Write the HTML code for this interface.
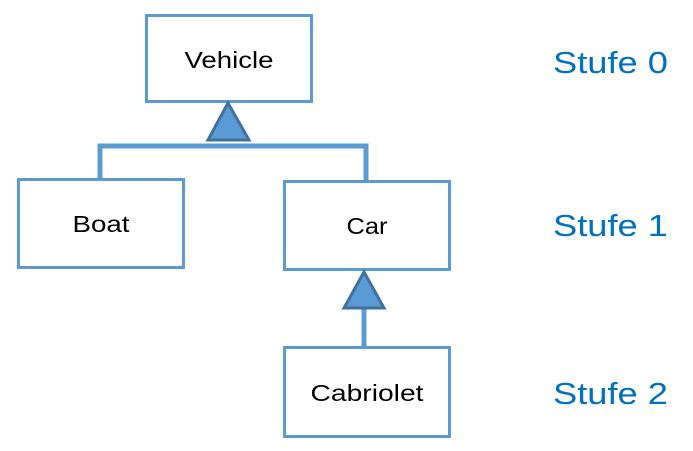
<!DOCTYPE html>
<html><head><style>html,body{margin:0;padding:0;background:#fff}</style></head><body>
<svg width="693" height="451" viewBox="0 0 693 451" xmlns="http://www.w3.org/2000/svg" style="display:block">
<g fill="#fff" stroke="#5b9bd5" stroke-width="3">
<rect x="146.5" y="15.5" width="165" height="86"/>
<rect x="18.5" y="179.5" width="165" height="88"/>
<rect x="284.5" y="181.5" width="165" height="88"/>
<rect x="284.5" y="347.5" width="165" height="89"/>
</g>
<g fill="none" stroke="#5b9bd5" stroke-width="5">
<polyline points="100,179 100,146 366,146 366,181"/>
<line x1="364" y1="308" x2="364" y2="347"/>
</g>
<g fill="#5b9bd5" stroke="#41719c" stroke-width="3" stroke-linejoin="miter">
<polygon points="228,103 208,140 249,140"/>
<polygon points="364,272 344,308 384,308"/>
</g>
<g font-family="Liberation Sans, sans-serif" font-size="23" fill="#000" text-anchor="middle">
<text x="229" y="68" textLength="89" lengthAdjust="spacingAndGlyphs">Vehicle</text>
<text x="101" y="232" textLength="57" lengthAdjust="spacingAndGlyphs">Boat</text>
<text x="367" y="234" textLength="41" lengthAdjust="spacingAndGlyphs">Car</text>
<text x="367" y="401" textLength="113" lengthAdjust="spacingAndGlyphs">Cabriolet</text>
</g>
<g font-family="Liberation Sans, sans-serif" font-size="31" fill="#0070c0">
<text x="553" y="73" textLength="115" lengthAdjust="spacingAndGlyphs">Stufe 0</text>
<text x="553" y="236" textLength="115" lengthAdjust="spacingAndGlyphs">Stufe 1</text>
<text x="553" y="404" textLength="115" lengthAdjust="spacingAndGlyphs">Stufe 2</text>
</g>
</svg>
</body></html>
